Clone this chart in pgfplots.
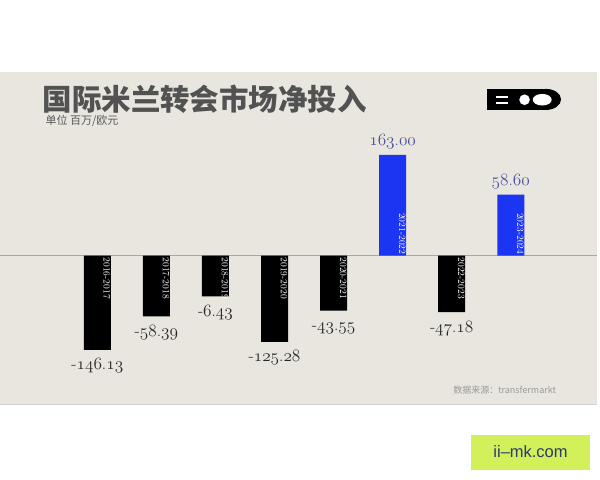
\documentclass[border=0pt]{standalone}
\usepackage{fontspec}
\usepackage{pgfplots}
\pgfplotsset{compat=1.18}
\newfontfamily\cjk{Noto Sans CJK SC}
\newfontfamily\arialf{Liberation Sans}
\definecolor{panel}{HTML}{E8E6DF}
\definecolor{ecoblue}{HTML}{1B35F2}
\definecolor{zeroline}{HTML}{E58C8C}
\definecolor{lblblue}{HTML}{4A4E9E}
\definecolor{wmgreen}{HTML}{D2F05A}
\definecolor{wmtext}{HTML}{2B3A6B}
\newcommand\osf[1]{{\usefont{OML}{cmm}{m}{it}#1}}
\begin{document}
\begin{tikzpicture}[x=1pt,y=1pt]
\fill[white] (0,0) rectangle (600,480);
\fill[panel] (0,75) rectangle (597,408);
\draw[black!18, line width=0.8pt] (0,75) -- (597,75);
\draw[zeroline, line width=0.8pt] (0,224.3) -- (597,224.3);
% title
\node[anchor=west, inner sep=0pt, text=black!68] at (42,381) {\cjk\bfseries\fontsize{29.5}{33}\selectfont 国际米兰转会市场净投入};
\node[anchor=west, inner sep=0pt, text=black!65] at (45,359) {\cjk\fontsize{11}{13}\selectfont 单位\ 百万/欧元};
% ECO logo
\fill[black] (487,370) rectangle (545,391);
\fill[black] (546,380.5) ellipse [x radius=15, y radius=10.5];
\fill[white] (496,382.4) rectangle (508,384.2);
\fill[white] (496,375.8) rectangle (508,377.6);
\fill[white] (524.5,380.2) circle [radius=5.3];
\fill[white] (542.2,380.2) ellipse [x radius=9.5, y radius=5.8];
% source
\node[anchor=west, inner sep=0pt, text=black!40] at (453,90) {\cjk\fontsize{9}{11}\selectfont 数据来源：transfermarkt};
% watermark
\fill[wmgreen] (471,10) rectangle (590,45);
\node[text=wmtext, inner sep=0pt] at (530.5,28.3) {\arialf\fontsize{16.5}{18}\selectfont ii–mk.com};

\begin{axis}[at={(0,0)}, anchor=south west, width=600pt, height=480pt,
  scale only axis, axis lines=none, clip=false,
  xmin=-1.641, xmax=8.511, ymin=-486.9, ymax=569.2,
  y coord trafo/.code={\pgfmathparse{ifthenelse(#1<0,#1-101,ifthenelse(#1>0,#1+101,0))}},
  y coord inv trafo/.code={\pgfmathparse{ifthenelse(#1<0,#1+101,ifthenelse(#1>0,#1-101,0))}},
  ]
\addplot[ybar, bar width=27pt, bar shift=0pt, fill=black, draw=none,
  point meta=explicit symbolic, nodes near coords,
  every node near coord/.append style={font=\fontsize{17.28}{20}\selectfont, text=black!85, anchor=base, yshift=-20.2pt, inner sep=0pt}]
  coordinates {
  (0,-146.13) [-\osf{146}.\osf{13}]
  (1,-58.39) [-\osf{58}.\osf{39}]
  (2,-6.43) [-\osf{6}.\osf{43}]
  (3,-125.28) [-\osf{125}.\osf{28}]
  (4,-43.55) [-\osf{43}.\osf{55}]
  (6,-47.18) [-\osf{47}.\osf{18}]
  };
\addplot[ybar, bar width=27pt, bar shift=0pt, fill=ecoblue, draw=none,
  point meta=explicit symbolic, nodes near coords,
  every node near coord/.append style={font=\fontsize{17.28}{20}\selectfont, text=lblblue, anchor=base, yshift=9.6pt, inner sep=0pt}]
  coordinates {
  (5,163.00) [\osf{163}.\osf{00}]
  (7,58.60) [\osf{58}.\osf{60}]
  };
\begin{scope}[every node/.style={inner sep=0pt, text=white, font=\fontsize{9.5}{10}\selectfont}]
\node[xshift=9.5pt, yshift=-2pt, rotate=-90, anchor=west] at (axis cs:0,0) {2016-2017};
\node[xshift=9.5pt, yshift=-2pt, rotate=-90, anchor=west] at (axis cs:1,0) {2017-2018};
\node[xshift=9.5pt, yshift=-2pt, rotate=-90, anchor=west] at (axis cs:2,0) {2018-2019};
\node[xshift=9.5pt, yshift=-2pt, rotate=-90, anchor=west] at (axis cs:3,0) {2019-2020};
\node[xshift=9.5pt, yshift=-2pt, rotate=-90, anchor=west] at (axis cs:4,0) {2020-2021};
\node[xshift=9.5pt, yshift=1pt, rotate=-90, anchor=east] at (axis cs:5,0) {2021-2022};
\node[xshift=9.5pt, yshift=-2pt, rotate=-90, anchor=west] at (axis cs:6,0) {2022-2023};
\node[xshift=9.5pt, yshift=1pt, rotate=-90, anchor=east] at (axis cs:7,0) {2023-2024};
\end{scope}
\end{axis}
\end{tikzpicture}
\end{document}
